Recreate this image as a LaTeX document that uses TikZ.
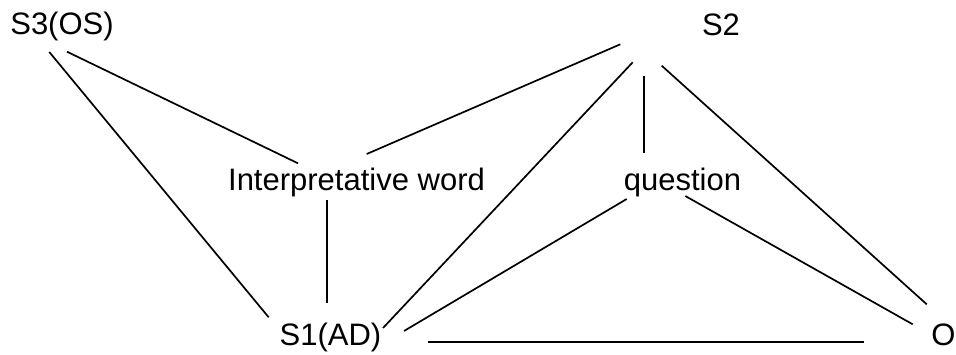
\documentclass[tikz,border=0pt]{standalone}
\usepackage{fontspec}
\setmainfont{Liberation Sans}
\usepackage{tikz}

\begin{document}
\begin{tikzpicture}[x=1pt,y=-1pt,
  term/.style={anchor=base, inner sep=0pt, font=\fontsize{31}{37}\selectfont},
  link/.style={line width=1.7pt, black}]

\useasboundingbox (0,0) rectangle (956,354);

% ------------------------------------------------------------
% Terms (placed by baseline centre)
% ------------------------------------------------------------
\node[term] (sthree) at (62,34)      {S3(OS)};
\node[term] (stwo)   at (721,35)     {S2};
\node[term] (interp) at (356.5,190.5) {Interpretative word};
\node[term] (quest)  at (682.5,190.5) {question};
\node[term] (sone)   at (330.5,345)  {S1(AD)};
\node[term] (obj)    at (943.5,345)  {O};

% ------------------------------------------------------------
% Links from S3 and S2
% ------------------------------------------------------------
\draw[link] ([shift={(-12.7,18)}]sthree.base) -- ([shift={(-61.8,-27.7)}]sone.base);
\draw[link] ([shift={(5,17.7)}]sthree.base)   -- ([shift={(-58.5,-27.2)}]interp.base);
\draw[link] ([shift={(-100.7,9.3)}]stwo.base) -- ([shift={(10.2,-36.5)}]interp.base);
\draw[link] ([shift={(-88.3,27.3)}]stwo.base) -- ([shift={(52.5,-17)}]sone.base);
\draw[link] ([shift={(-76.7,41)}]stwo.base)   -- ([shift={(-38.2,-37.8)}]quest.base);
\draw[link] ([shift={(-59.3,30.7)}]stwo.base) -- ([shift={(-16.8,-40.7)}]obj.base);

% ------------------------------------------------------------
% Links between the lower terms
% ------------------------------------------------------------
\draw[link] ([shift={(-29.5,9.5)}]interp.base) -- ([shift={(-3.5,-42)}]sone.base);
\draw[link] ([shift={(-55.8,8.5)}]quest.base)  -- ([shift={(73.5,-14)}]sone.base);
\draw[link] ([shift={(2.8,5.5)}]quest.base)    -- ([shift={(-30.8,-20.7)}]obj.base);
\draw[link] ([shift={(97.5,-3)}]sone.base)     -- ([shift={(-79.8,-3)}]obj.base);

\end{tikzpicture}
\end{document}
